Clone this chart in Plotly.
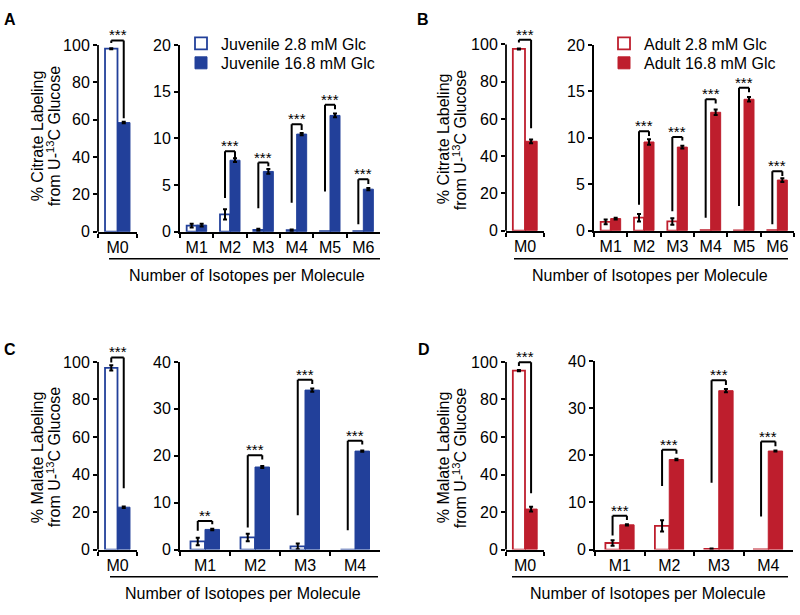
import plotly.graph_objects as go

W, H = 800, 615
FONT = "Arial, 'Liberation Sans', Helvetica, sans-serif"
BLUE = "#22409a"
RED = "#be1e2d"

# ---------------- data ----------------
m0_label = ["M0"]
citrate_isotopes = ["M1", "M2", "M3", "M4", "M5", "M6"]
malate_isotopes = ["M1", "M2", "M3", "M4"]

# Panel A: juvenile islets, citrate
juv_cit_m0_low = [98.0]
juv_cit_m0_low_err = [0.3]
juv_cit_m0_high = [58.4]
juv_cit_m0_high_err = [0.4]
juv_cit_low = [0.65, 1.85, 0.2, 0.15, 0.05, 0.05]
juv_cit_low_err = [0.2, 0.55, 0.1, 0.08]
juv_cit_high = [0.7, 7.65, 6.45, 10.45, 12.45, 4.55]
juv_cit_high_err = [0.15, 0.2, 0.25, 0.12, 0.2, 0.12]
juv_cit_sig = ["", "***", "***", "***", "***", "***"]
juv_cit_brk_top = [None, 8.6, 7.4, 11.5, 13.6, 5.6]
juv_cit_brk_left = [None, 3.6, 2.5, 3.1, 4.3, 0.8]
juv_cit_brk_right = [None, 7.9, 7.0, 10.9, 13.1, 5.1]
juv_cit_m0_brk = [102.4, 101.0, 60.8]

# Panel B: adult islets, citrate
adu_cit_m0_low = [97.6]
adu_cit_m0_low_err = [0.3]
adu_cit_m0_high = [48.0]
adu_cit_m0_high_err = [1.0]
adu_cit_low = [0.95, 1.4, 1.0, 0.05, 0.03, 0.05]
adu_cit_low_err = [0.25, 0.4, 0.35]
adu_cit_high = [1.3, 9.55, 9.0, 12.75, 14.15, 5.45]
adu_cit_high_err = [0.1, 0.3, 0.15, 0.3, 0.25, 0.2]
adu_cit_sig = ["", "***", "***", "***", "***", "***"]
adu_cit_brk_top = [None, 10.7, 10.1, 14.15, 15.4, 6.4]
adu_cit_brk_left = [None, 2.8, 2.1, 1.4, 2.65, 0.7]
adu_cit_brk_right = [None, 10.2, 9.7, 13.7, 14.9, 5.9]
adu_cit_m0_brk = [102.5, 101.0, 55.0]

# Panel C: juvenile islets, malate
juv_mal_m0_low = [96.8]
juv_mal_m0_low_err = [1.4]
juv_mal_m0_high = [22.6]
juv_mal_m0_high_err = [0.4]
juv_mal_low = [1.75, 2.6, 0.7, 0.0]
juv_mal_low_err = [0.8, 0.8, 0.6]
juv_mal_high = [4.3, 17.6, 34.0, 21.0]
juv_mal_high_err = [0.15, 0.2, 0.35, 0.15]
juv_mal_sig = ["**", "***", "***", "***"]
juv_mal_brk_top = [6.1, 20.1, 36.2, 23.2]
juv_mal_brk_left = [4.0, 4.7, 7.3, 4.15]
juv_mal_brk_right = [5.4, 19.2, 35.3, 22.4]
juv_mal_m0_brk = [102.4, 99.7, 32.7]

# Panel D: adult islets, malate
adu_mal_m0_low = [95.4]
adu_mal_m0_low_err = [0.3]
adu_mal_m0_high = [21.6]
adu_mal_m0_high_err = [1.3]
adu_mal_low = [1.4, 5.05, 0.15, 0.05]
adu_mal_low_err = [0.6, 1.2, 0.1]
adu_mal_high = [5.25, 19.1, 33.7, 20.9]
adu_mal_high_err = [0.15, 0.15, 0.35, 0.1]
adu_mal_sig = ["***", "***", "***", "***"]
adu_mal_brk_top = [7.2, 21.2, 35.9, 22.9]
adu_mal_brk_left = [3.0, 13.5, 14.2, 7.0]
adu_mal_brk_right = [6.3, 20.3, 34.9, 21.9]
adu_mal_m0_brk = [99.8, 97.8, 30.0]

legend_juv = ["Juvenile 2.8 mM Glc", "Juvenile 16.8 mM Glc"]
legend_adu = ["Adult 2.8 mM Glc", "Adult 16.8 mM Glc"]

M0_MAX = 112.0
M0_W = 0.32

panels = [
    dict(letter="A", color=BLUE, cats=citrate_isotopes, names=legend_juv, legends=("legend", "legend2"),
         m0=(juv_cit_m0_low, juv_cit_m0_low_err, juv_cit_m0_high, juv_cit_m0_high_err, juv_cit_m0_brk),
         r=(juv_cit_low, juv_cit_low_err, juv_cit_high, juv_cit_high_err),
         brk=(juv_cit_sig, juv_cit_brk_top, juv_cit_brk_left, juv_cit_brk_right),
         ytitle="Citrate", rmax=20, rdtick=5, w=0.30,
         m0x=(98, 137), m0y0=230, m0s=1.92, rx=(180, 380), ry=(38, 230),
         lx=(37, 54), ly=132, ul=(109, 380, 258), xt=(247, 275), let=(10, 12)),
    dict(letter="B", color=RED, cats=citrate_isotopes, names=legend_adu, legends=("legend3", "legend4"),
         m0=(adu_cit_m0_low, adu_cit_m0_low_err, adu_cit_m0_high, adu_cit_m0_high_err, adu_cit_m0_brk),
         r=(adu_cit_low, adu_cit_low_err, adu_cit_high, adu_cit_high_err),
         brk=(adu_cit_sig, adu_cit_brk_top, adu_cit_brk_left, adu_cit_brk_right),
         ytitle="Citrate", rmax=20, rdtick=5, w=0.30,
         m0x=(506, 544), m0y0=229, m0s=1.915, rx=(594, 794), ry=(38, 229),
         lx=(443, 460), ly=135, ul=(514, 788, 258), xt=(650, 275), let=(423, 12)),
    dict(letter="C", color=BLUE, cats=malate_isotopes, names=legend_juv, legends=None,
         m0=(juv_mal_m0_low, juv_mal_m0_low_err, juv_mal_m0_high, juv_mal_m0_high_err, juv_mal_m0_brk),
         r=(juv_mal_low, juv_mal_low_err, juv_mal_high, juv_mal_high_err),
         brk=(juv_mal_sig, juv_mal_brk_top, juv_mal_brk_left, juv_mal_brk_right),
         ytitle="Malate", rmax=40, rdtick=10, w=0.29,
         m0x=(98, 137), m0y0=557, m0s=1.93, rx=(180, 380), ry=(364, 557),
         lx=(37, 54), ly=462, ul=(110, 378, 585), xt=(243, 602), let=(10, 351)),
    dict(letter="D", color=RED, cats=malate_isotopes, names=legend_adu, legends=None,
         m0=(adu_mal_m0_low, adu_mal_m0_low_err, adu_mal_m0_high, adu_mal_m0_high_err, adu_mal_m0_brk),
         r=(adu_mal_low, adu_mal_low_err, adu_mal_high, adu_mal_high_err),
         brk=(adu_mal_sig, adu_mal_brk_top, adu_mal_brk_left, adu_mal_brk_right),
         ytitle="Malate", rmax=40, rdtick=10, w=0.29,
         m0x=(506, 544), m0y0=557, m0s=1.93, rx=(595, 793), ry=(363, 557),
         lx=(443, 460), ly=462, ul=(512, 788, 585), xt=(648, 602), let=(424, 351)),
]


def xdom(a, b):
    return [a / W, b / W]


def ydom(top, bottom):
    return [1 - bottom / H, 1 - top / H]


def ax_id(letter, i):
    return letter if i == 1 else f"{letter}{i}"


def ax_key(letter, i):
    return f"{letter}axis" if i == 1 else f"{letter}axis{i}"


fig = go.Figure()
layout = {}
shapes = []
annotations = []

axis_common = dict(showgrid=False, zeroline=False, linecolor="black", linewidth=1.8,
                   ticks="outside", ticklen=4, tickwidth=1.5, tickcolor="black",
                   tickfont=dict(size=16, color="black", family=FONT), fixedrange=True)


def bracket(xref, yref, xl, xr, top, lb, rb):
    for (x0, y0, x1, y1) in [(xl, lb, xl, top), (xl, top, xr, top), (xr, top, xr, rb)]:
        shapes.append(dict(type="line", xref=xref, yref=yref, x0=x0, y0=y0, x1=x1, y1=y1,
                           line=dict(color="black", width=2)))


def stars(xref, yref, x, y, text):
    annotations.append(dict(xref=xref, yref=yref, x=x, y=y, text=text, showarrow=False,
                            yanchor="bottom", yshift=-5, font=dict(size=15, color="black", family=FONT)))


for k, p in enumerate(panels):
    i0 = 2 * k + 1
    i1 = 2 * k + 2
    xa0, ya0 = ax_id("x", i0), ax_id("y", i0)
    xa1, ya1 = ax_id("x", i1), ax_id("y", i1)
    col = p["color"]
    err_style = dict(type="data", color="black", thickness=2, width=2, visible=True)
    lo0, lo0e, hi0, hi0e, brk0 = p["m0"]
    lo, loe, hi, hie = p["r"]
    sig, btop, bleft, bright = p["brk"]
    w = p["w"]

    # M0 subplot
    fig.add_trace(go.Bar(x=m0_label, y=lo0, offset=-M0_W, width=M0_W, xaxis=xa0, yaxis=ya0,
                         marker=dict(color="white", line=dict(color=col, width=1.8)),
                         error_y=dict(array=lo0e, **err_style), showlegend=False, name=p["names"][0]))
    fig.add_trace(go.Bar(x=m0_label, y=hi0, offset=0, width=M0_W, xaxis=xa0, yaxis=ya0,
                         marker=dict(color=col, line=dict(color=col, width=1)),
                         error_y=dict(array=hi0e, **err_style), showlegend=False, name=p["names"][1]))
    # isotopologue subplot
    show = p["legends"] is not None
    ex0 = dict(legend=p["legends"][0]) if show else {}
    ex1 = dict(legend=p["legends"][1]) if show else {}
    fig.add_trace(go.Bar(x=p["cats"], y=lo, offset=-w, width=w, xaxis=xa1, yaxis=ya1,
                         marker=dict(color="white", line=dict(color=col, width=1.8)),
                         error_y=dict(array=loe, **err_style), showlegend=show, name=p["names"][0], **ex0))
    fig.add_trace(go.Bar(x=p["cats"], y=hi, offset=0, width=w, xaxis=xa1, yaxis=ya1,
                         marker=dict(color=col, line=dict(color=col, width=1)),
                         error_y=dict(array=hie, **err_style), showlegend=show, name=p["names"][1], **ex1))

    m0top = p["m0y0"] - M0_MAX * p["m0s"]
    layout[ax_key("x", i0)] = dict(domain=xdom(*p["m0x"]), anchor=ya0, type="category",
                                    showline=True, tickson="boundaries", **axis_common)
    layout[ax_key("y", i0)] = dict(domain=ydom(m0top, p["m0y0"]), anchor=xa0, range=[0, M0_MAX],
                                    tickvals=[0, 20, 40, 60, 80, 100], showline=False, **axis_common)
    layout[ax_key("x", i1)] = dict(domain=xdom(*p["rx"]), anchor=ya1, type="category",
                                    showline=True, tickson="boundaries", **axis_common)
    layout[ax_key("y", i1)] = dict(domain=ydom(*p["ry"]), anchor=xa1, range=[0, p["rmax"]],
                                    dtick=p["rdtick"], tick0=0, showline=True, **axis_common)

    # y axis line of the M0 subplot (only up to 100)
    shapes.append(dict(type="line", xref=f"{xa0} domain", yref=f"{ya0} domain", x0=0, x1=0,
                       y0=0, y1=100 / M0_MAX, line=dict(color="black", width=1.8)))

    # significance brackets
    bracket(xa0, ya0, -M0_W / 2, M0_W / 2, *brk0)
    stars(xa0, ya0, 0, brk0[0], "***")
    for j in range(len(p["cats"])):
        if btop[j] is None:
            continue
        bracket(xa1, ya1, j - w / 2, j + w / 2, btop[j], bleft[j], bright[j])
        stars(xa1, ya1, j, btop[j], sig[j])

    # y-axis title (two lines)
    annotations.append(dict(xref="paper", yref="paper", x=p["lx"][0] / W, y=1 - p["ly"] / H,
                            text=f"% {p['ytitle']} Labeling", textangle=-90, showarrow=False,
                            xanchor="center", yanchor="middle", font=dict(size=16, color="black", family=FONT)))
    annotations.append(dict(xref="paper", yref="paper", x=p["lx"][1] / W, y=1 - p["ly"] / H,
                            text="from U-<sup>13</sup>C Glucose", textangle=-90, showarrow=False,
                            xanchor="center", yanchor="middle", font=dict(size=16, color="black", family=FONT)))
    # x-axis group title and underline
    ux0, ux1, uy = p["ul"]
    shapes.append(dict(type="line", xref="paper", yref="paper", x0=ux0 / W, x1=ux1 / W,
                       y0=1 - uy / H, y1=1 - uy / H, line=dict(color="black", width=1.5)))
    annotations.append(dict(xref="paper", yref="paper", x=p["xt"][0] / W, y=1 - p["xt"][1] / H,
                            text="Number of Isotopes per Molecule", showarrow=False,
                            xanchor="center", yanchor="middle", font=dict(size=16, color="black", family=FONT)))
    # panel letter
    annotations.append(dict(xref="paper", yref="paper", x=p["let"][0] / W, y=1 - p["let"][1] / H,
                            text=f"<b>{p['letter']}</b>", showarrow=False, xanchor="center",
                            yanchor="middle", font=dict(size=16, color="black", family=FONT)))

legend_common = dict(xanchor="left", yanchor="top", bgcolor="rgba(0,0,0,0)", borderwidth=0,
                     font=dict(size=16, color="black", family=FONT), tracegroupgap=0,
                     itemclick=False, itemdoubleclick=False)
layout["legend"] = dict(x=181 / W, y=1 - 19 / H, **legend_common)
layout["legend2"] = dict(x=181 / W, y=1 - 39 / H, **legend_common)
layout["legend3"] = dict(x=604 / W, y=1 - 19 / H, **legend_common)
layout["legend4"] = dict(x=604 / W, y=1 - 39 / H, **legend_common)

fig.update_layout(
    width=W, height=H, margin=dict(l=0, r=0, t=0, b=0),
    paper_bgcolor="white", plot_bgcolor="rgba(0,0,0,0)",
    barmode="overlay", font=dict(family=FONT, color="black"),
    shapes=shapes, annotations=annotations, **layout,
)

fig.write_html("out.html", config={"displayModeBar": False},
               post_script="document.body.style.margin='0px';")
